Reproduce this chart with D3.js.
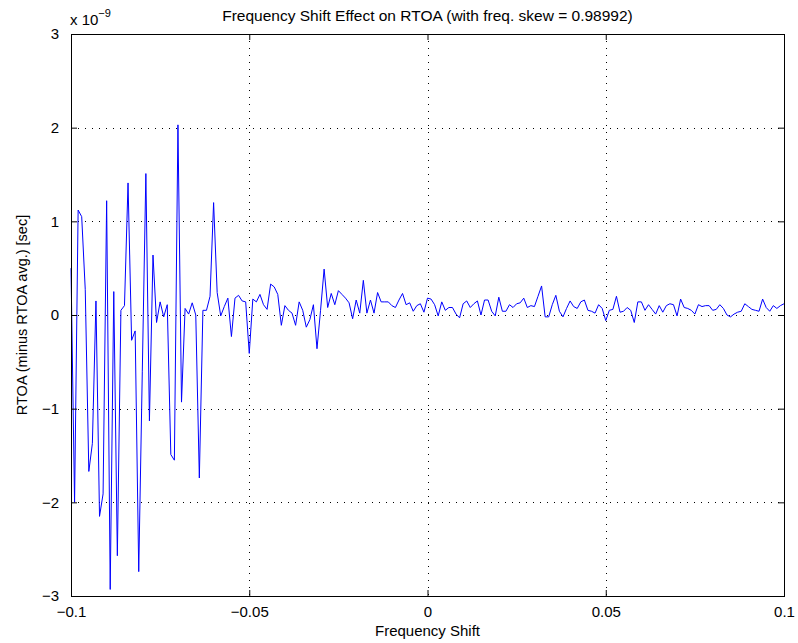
<!DOCTYPE html>
<html>
<head>
<meta charset="utf-8">
<script src="https://cdn.jsdelivr.net/npm/d3@7"></script>
<style>
  body { margin: 0; background: #fff; }
  text { font-family: "Liberation Sans", Arial, Helvetica, sans-serif; fill: #000; }
</style>
</head>
<body>
<svg id="chart"></svg>
<script>
// data (values in units of 1e-9 sec)
let xStart = -0.1, xStep = 0.001;
let rtoaValues = [
  0.50, -2.00, 1.12, 1.05, 0.27, -1.67, -1.37, 0.15, -2.15, -1.91,
  1.22, -2.93, 0.25, -2.57, 0.05, 0.10, 1.41, -0.27, -0.17, -2.74,
  -0.60, 1.51, -1.13, 0.64, -0.08, 0.14, -0.02, 0.11, -1.49, -1.55,
  2.03, -0.93, 0.07, 0.01, 0.13, 0.00, -1.74, 0.05, 0.05, 0.20,
  1.20, 0.24, -0.01, 0.09, 0.18, -0.23, 0.18, 0.21, 0.15, 0.14,
  -0.41, 0.17, 0.14, 0.22, 0.11, 0.06, 0.33, 0.30, 0.22, -0.11,
  0.10, 0.05, 0.02, -0.11, 0.14, 0.05, -0.13, -0.05, 0.11, -0.36,
  0.05, 0.49, 0.08, 0.23, 0.11, 0.26, 0.22, 0.18, 0.13, -0.04,
  0.16, 0.02, 0.37, 0.02, 0.16, 0.02, 0.24, 0.14, 0.14, 0.14,
  0.10, 0.08, 0.16, 0.23, 0.11, 0.13, 0.04, 0.10, 0.12, 0.03,
  0.18, 0.17, 0.11, -0.01, 0.14, 0.05, 0.08, 0.08, 0.01, -0.03,
  0.12, 0.15, 0.08, 0.12, 0.15, 0.00, 0.16, 0.16, 0.04, -0.01,
  0.19, 0.04, 0.04, 0.11, 0.08, 0.12, 0.13, 0.18, 0.08, 0.10,
  0.09, 0.20, 0.31, -0.02, -0.02, 0.11, 0.21, 0.04, -0.02, 0.07,
  0.15, 0.09, 0.07, 0.14, 0.16, 0.05, 0.04, 0.02, 0.11, 0.07,
  -0.06, 0.05, 0.06, 0.20, 0.03, 0.04, 0.08, 0.05, -0.08, 0.14,
  0.14, 0.05, 0.11, 0.06, 0.01, 0.10, 0.03, 0.10, 0.12, 0.11,
  -0.01, 0.17, 0.08, 0.07, 0.05, 0.01, 0.11, 0.09, 0.10, 0.10,
  0.05, 0.06, 0.11, 0.07, 0.00, -0.02, 0.01, 0.03, 0.04, 0.12,
  0.09, 0.06, 0.05, 0.04, 0.17, 0.08, 0.04, 0.10, 0.07, 0.10,
  0.12
];
let xTicks = [-0.1, -0.05, 0, 0.05, 0.1];
let xTickLabels = ["\u22120.1", "\u22120.05", "0", "0.05", "0.1"];
let yTicks = [-3, -2, -1, 0, 1, 2, 3];
let yTickLabels = ["\u22123", "\u22122", "\u22121", "0", "1", "2", "3"];

let titleText = "Frequency Shift Effect on RTOA (with freq. skew = 0.98992)";
let xLabelText = "Frequency Shift";
let yLabelText = "RTOA (minus RTOA avg.) [sec]";

let width = 798, height = 643;
let margin = {top: 34, right: 14, bottom: 47, left: 71};
let plotW = width - margin.left - margin.right;
let plotH = height - margin.top - margin.bottom;
let tickLen = 6;
let tickFont = 15;

let svg = d3.select("#chart")
  .attr("width", width)
  .attr("height", height);

let points = rtoaValues.map(function(v, i) {
  return {x: xStart + i * xStep, y: v};
});

let x = d3.scaleLinear().domain([-0.1, 0.1]).range([0, plotW]);
let y = d3.scaleLinear().domain([-3, 3]).range([plotH, 0]);

const g = svg.append("g")
  .attr("transform", "translate(" + margin.left + "," + margin.top + ")");

// grid (dotted, matlab style)
g.selectAll(".vgrid")
  .data(xTicks.slice(1, -1))
  .enter()
  .append("line")
  .attr("class", "vgrid")
  .attr("x1", d => Math.round(x(d)) + 0.5)
  .attr("x2", d => Math.round(x(d)) + 0.5)
  .attr("y1", 0)
  .attr("y2", plotH)
  .attr("stroke", "#000")
  .attr("stroke-width", 1)
  .attr("stroke-dasharray", "1,6");

g.selectAll(".hgrid")
  .data(yTicks.slice(1, -1))
  .enter()
  .append("line")
  .attr("class", "hgrid")
  .attr("x1", 0)
  .attr("x2", plotW)
  .attr("y1", d => Math.round(y(d)) + 0.5)
  .attr("y2", d => Math.round(y(d)) + 0.5)
  .attr("stroke", "#000")
  .attr("stroke-width", 1)
  .attr("stroke-dasharray", "1,6");

// data line
let line = d3.line()
  .x(d => x(d.x))
  .y(d => y(d.y));

g.append("path")
  .datum(points)
  .attr("d", line)
  .attr("fill", "none")
  .attr("stroke", "#0000ff")
  .attr("stroke-width", 1);

// axes: ticks pointing inward on all four sides
let xAxisBottom = d3.axisBottom(x).tickValues(xTicks)
  .tickSizeInner(-tickLen).tickSizeOuter(0)
  .tickFormat((d, i) => xTickLabels[i]).tickPadding(tickLen + 4);
let xAxisTop = d3.axisTop(x).tickValues(xTicks)
  .tickSizeInner(-tickLen).tickSizeOuter(0).tickFormat("");
let yAxisLeft = d3.axisLeft(y).tickValues(yTicks)
  .tickSizeInner(-tickLen).tickSizeOuter(0)
  .tickFormat((d, i) => yTickLabels[i]).tickPadding(tickLen + 6);
let yAxisRight = d3.axisRight(y).tickValues(yTicks)
  .tickSizeInner(-tickLen).tickSizeOuter(0).tickFormat("");

g.append("g").attr("class", "axis")
  .attr("transform", "translate(0," + plotH + ")")
  .call(xAxisBottom);
g.append("g").attr("class", "axis").call(xAxisTop);
g.append("g").attr("class", "axis").call(yAxisLeft);
g.append("g").attr("class", "axis")
  .attr("transform", "translate(" + plotW + ",0)")
  .call(yAxisRight);

g.selectAll(".axis path").remove();
g.selectAll(".axis line").attr("stroke", "#000");
g.selectAll(".axis text")
  .attr("font-size", tickFont)
  .style("font-family", "'Liberation Sans', Arial, sans-serif")
  .attr("fill", "#000");

// box
g.append("rect")
  .attr("x", 0.5)
  .attr("y", 0.5)
  .attr("width", plotW)
  .attr("height", plotH)
  .attr("fill", "none")
  .attr("stroke", "#000")
  .attr("stroke-width", 1);

// exponent label
let expo = svg.append("text")
  .attr("x", margin.left - 1)
  .attr("y", 25)
  .attr("font-size", 15);
expo.append("tspan").text("x 10");
expo.append("tspan").attr("dy", -8).attr("font-size", 11).text("\u22129");

// title and axis labels
svg.append("text")
  .attr("x", margin.left + plotW / 2)
  .attr("y", 21)
  .attr("text-anchor", "middle")
  .attr("font-size", 15.5)
  .text(titleText);

svg.append("text")
  .attr("x", margin.left + plotW / 2)
  .attr("y", 636)
  .attr("text-anchor", "middle")
  .attr("font-size", 15)
  .text(xLabelText);

svg.append("text")
  .attr("transform", "translate(27," + (margin.top + plotH / 2) + ") rotate(-90)")
  .attr("text-anchor", "middle")
  .attr("font-size", 14.5)
  .text(yLabelText);
</script>
</body>
</html>
